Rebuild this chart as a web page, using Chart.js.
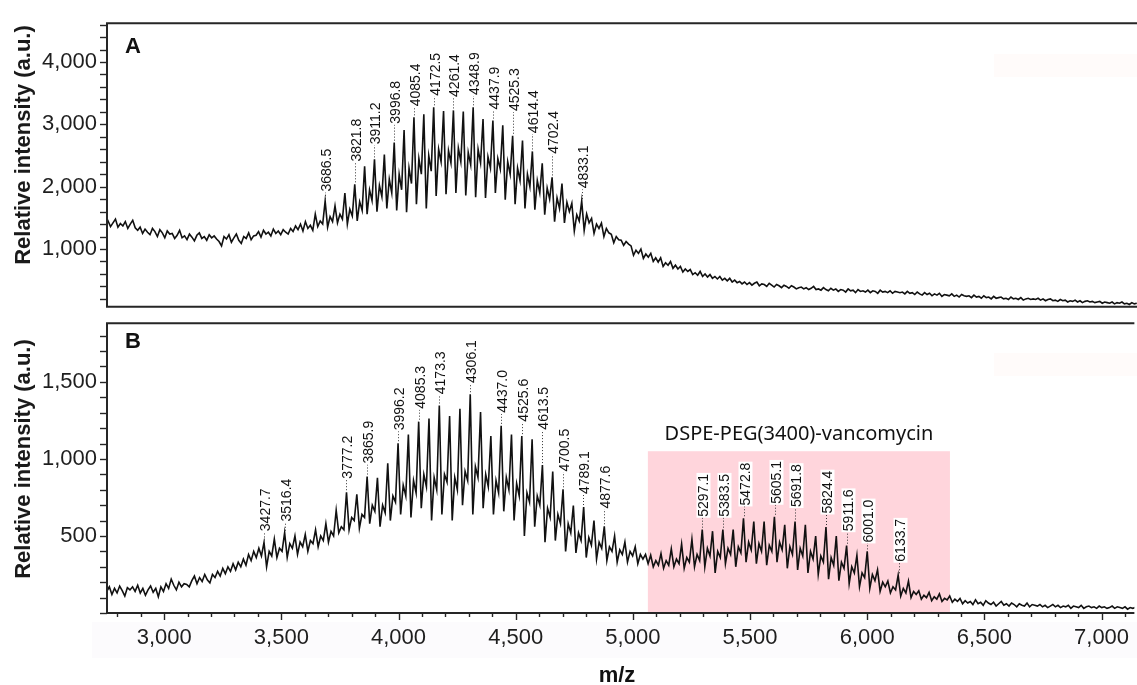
<!DOCTYPE html>
<html lang="en">
<head>
<meta charset="UTF-8">
<title>MALDI-TOF spectra</title>
<script src="https://cdn.jsdelivr.net/npm/chart.js"></script>
<style>
  html, body { margin: 0; padding: 0; background: #fff; }
  #page { position: relative; width: 1137px; height: 685px; overflow: hidden; }
  canvas { position: absolute; left: 0; }
  #chartA { top: 0; }
  #chartB { top: 300px; }
  .haze { position: absolute; }
</style>
</head>
<body>
<div id="page">
  <div class="haze" style="left:92px; top:622px; width:1045px; height:36px; background:#fcfbfd;"></div>
  <div class="haze" style="left:994px; top:54px; width:143px; height:23px; background:#fffbfa;"></div>
  <div class="haze" style="left:994px; top:353px; width:143px; height:23px; background:#fffbfa;"></div>
  <canvas id="chartA" width="1137" height="330"></canvas>
  <canvas id="chartB" width="1137" height="385"></canvas>
</div>
<script>
// Spectrum A: one reading every 10.5 m/z starting at 2750
const mzStartA = 2750, mzStepA = 10.5;
const intensityA = [
  1380, 1450, 1360, 1420, 1480, 1350, 1410, 1370, 1440, 1330, 1400, 1460, 1340,
  1300, 1350, 1250, 1320, 1270, 1230, 1330, 1280, 1200, 1310, 1260, 1180, 1290, 1240,
  1250, 1170, 1220, 1300, 1180, 1210, 1150, 1240, 1190, 1130, 1220, 1260, 1170, 1200, 1140, 1230, 1180, 1210, 1160, 1120,
  1050, 1200, 1160, 1230, 1110, 1180, 1240, 1140, 1090, 1200, 1170, 1260, 1150, 1210,
  1220, 1280, 1190, 1300, 1240, 1270, 1210, 1320, 1250, 1290, 1230, 1310, 1270, 1240,
  1330, 1280, 1370, 1310, 1400, 1290, 1440, 1330, 1380, 1300, 1560, 1360, 1450, 1400,
  1769, 1350, 1520, 1440,  1693, 1420, 1560, 1480,  1897, 1400, 1640, 1530,  2038, 1450, 1760, 1620,
  2327, 1560, 1950, 1780,  2438, 1600, 2020, 1840,  2514, 1650, 2120, 1900,  2707, 1620, 2200, 1950,
  2909, 1590, 2300, 2050,  3113, 1720, 2450, 2200,  3163, 1650, 2500, 2250,  3274, 1850, 2600, 2400,
  3213, 1880, 2580, 2380,  3224, 1900, 2620, 2400,  3204, 1860, 2550, 2350,  3274, 1830, 2600, 2380,
  3087, 1820, 2480, 2300,  3061, 1900, 2450, 2280,  2985, 1790, 2400, 2200,  2818, 1720, 2300, 2100,
  2742, 1650, 2200, 2000,  2566, 1630, 2100, 1900,  2377, 1550, 1980, 1800,  2149, 1440, 1820, 1650,
  2049, 1420, 1750, 1600,  1734, 1290, 1550, 1450,  1769, 1300, 1560, 1420,  1491, 1250, 1400, 1330,
  1415, 1200, 1330, 1260,  1237, 1100, 1200, 1150,  1141, 1060, 1120, 1080,
  1050, 900, 980, 930,  1000, 850, 920, 870,  930, 800, 860, 790,  860, 720, 780, 740,
  800, 690, 740, 680,  720, 630, 680, 640,  670, 590, 620, 580,  640, 560, 600, 550,
  590, 530, 560, 520,  560, 500, 530, 490,  530, 470, 500, 460,
  480, 440, 470, 430, 460, 420, 450, 470, 410, 440, 430, 400, 450, 420, 390, 430, 410, 380, 420, 400, 370, 410, 390, 360, 380,
  390, 360, 380, 350, 370, 400, 350, 360, 340, 380, 350, 330, 370, 340, 360, 320, 350, 340, 310, 360,
  330, 340, 300, 350, 320, 330, 310, 340, 300, 330, 320, 290, 340, 310, 320, 300, 330, 290, 320, 310, 300,
  310, 280, 320, 290, 300, 270, 310, 280, 260, 300, 270, 290, 250, 280, 260, 290, 240, 270, 260, 250, 280, 240, 260, 230, 270, 250, 240,
  250, 220, 260, 230, 240, 210, 250, 220, 230, 200, 240, 210, 220, 230, 200, 210, 190, 230, 200, 210, 190, 220, 180, 200, 210, 190, 200,
  190, 210, 180, 200, 170, 190, 200, 170, 180, 160, 190, 170, 180, 150, 170, 160, 180, 150, 170, 140,
  160, 170, 150, 160, 140, 150, 160, 130, 150, 140, 130, 150, 120, 140, 130, 150, 120, 130, 110, 140, 120, 130
];

// Spectrum B: one reading every 11 m/z starting at 2755
const mzStartB = 2755, mzStepB = 11;
const intensityB = [
  140, 170, 120, 160, 130, 175, 145, 110, 165, 150, 170,
  140, 180, 130, 160, 115, 150, 175, 135, 160, 105,
  170, 140, 190, 160, 220, 180, 150, 200, 170, 190, 185,
  170, 210, 240, 190, 230, 205, 250, 215, 195, 250,
  230, 270, 240, 290, 255, 300, 270, 320, 280, 330,
  300, 350, 310, 380, 340, 400, 360, 420, 370,
  458, 300, 400, 370,  480, 360, 420, 400,  521, 360, 450, 420,  500, 380, 460, 430,
  510, 400, 470, 450,  540, 430, 500, 470,  580, 460, 530, 500,  667, 520, 560, 540,
  784, 540, 620, 600,  771, 550, 640, 620,  886, 580, 700, 660,  878, 560, 700, 650,
  972, 600, 760, 720,  1102, 640, 830, 760,  1159, 620, 860, 780,  1242, 680, 900, 820,
  1263, 600, 880, 800,  1347, 640, 900, 850,  1278, 600, 880, 800,  1326, 700, 920, 860,
  1420, 640, 950, 880,  1305, 680, 900, 820,  1148, 640, 860, 780,  1215, 660, 880, 800,
  1159, 600, 840, 760,  1148, 500, 780, 720,  1127, 560, 760, 700,  960, 460, 680, 620,
  918, 470, 640, 580,  803, 400, 580, 520,  698, 390, 520, 470,  688, 360, 490, 440,
  600, 350, 460, 420,  563, 340, 430, 400,  500, 330, 410, 380,  460, 330, 400, 370,
  430, 320, 380, 350,
  380, 320, 375, 300, 340, 310,
  385, 290, 340, 310,  416, 300, 350, 320,  447, 290, 360, 330,  479, 300, 380, 340,
  541, 300, 420, 370,  531, 260, 400, 360,  541, 320, 420, 380,  541, 300, 430, 390,
  615, 330, 460, 410,  594, 320, 450, 400,  594, 310, 440, 400,  625, 330, 460, 410,
  573, 290, 430, 380,  594, 280, 420, 370,  573, 260, 400, 350,  500, 250, 370, 330,
  558, 220, 360, 310,  500, 210, 330, 290,  437, 190, 300, 260,  375, 170, 260, 230,
  400, 160, 250, 210,  280, 140, 200, 170,  207, 130, 170, 150,  245, 110, 160, 130,
  207, 100, 140, 120,  144, 90, 115, 100,  134, 80, 105, 90,  124, 75, 95, 85,
  110, 70, 90, 75,  95, 60, 80, 65,
  75, 55, 85, 60, 70, 50, 80, 65, 55, 70, 45, 60, 75, 50, 60, 45, 65, 55, 40, 60, 50, 45, 65, 40, 55, 50,
  45, 55, 40, 50, 35, 45, 55, 40, 50, 35, 45, 40, 50, 30, 45, 40, 35, 50, 30, 40,
  45, 35, 40, 30, 45, 35, 40, 30, 35, 45, 30, 40, 35, 30, 40, 25, 35, 30, 35
];

// peak labels of A: printed value, where the peak sits on the shared axis, height where the text starts
const peakMzA = [3686.5, 3821.8, 3911.2, 3996.8, 4085.4, 4172.5, 4261.4, 4348.9, 4437.9, 4525.3, 4614.4, 4702.4, 4833.1];
const peakPosA = [3684.5, 3810.5, 3894.5, 3978.5, 4062.5, 4146.5, 4230.5, 4314.5, 4398.5, 4482.5, 4566.5, 4650.5, 4776.5];
const labelBaseA = [1921, 2403, 2681, 3011, 3289, 3460, 3440, 3470, 3239, 3213, 2859, 2529, 1973];

// peak labels of B (these sit at their own m/z)
const peakMzB = [3427.7, 3516.4, 3777.2, 3865.9, 3996.2, 4085.3, 4173.3, 4306.1, 4437.0, 4525.6, 4613.5, 4700.5,
                 4789.1, 4877.6, 5297.1, 5383.5, 5472.8, 5605.1, 5691.8, 5824.4, 5911.6, 6001.0, 6133.7];
const labelBaseB = [531, 594, 872, 970, 1186, 1326, 1420, 1493, 1299, 1242, 1190, 918,
                    772, 678, 625, 625, 698, 709, 688, 646, 531, 458, 333];

// conjugate region highlighted in B
const boxMz = [5064, 6353];
const boxTop = 1050;
const boxName = 'DSPE-PEG(3400)-vancomycin';

const xMajorTicks = [3000, 3500, 4000, 4500, 5000, 5500, 6000, 6500, 7000];
const yMajorTicksA = [1000, 2000, 3000, 4000];
const yMajorTicksB = [500, 1000, 1500];

const xMin = 2756, xMax = 7140;

Chart.defaults.font.family = "'Liberation Sans', Arial, sans-serif";
Chart.defaults.color = '#1e1e1e';

const fmt = v => v.toLocaleString('en-US');
const toPoints = (start, step, arr) => arr.map((y, i) => ({ x: start + i * step, y }));

function tickList(from, to, step) {
  const out = [];
  for (let v = from; v <= to; v += step) out.push({ value: v });
  return out;
}

// frame lines and outward tick marks
function frameAndTicks(yMajors, showX) {
  return {
    id: 'frameAndTicks',
    afterDraw(chart) {
      const { ctx, chartArea: a, scales } = chart;
      ctx.save();
      ctx.strokeStyle = '#262626';
      ctx.lineWidth = 1.4;
      scales.y.ticks.forEach(t => {
        const p = Math.round(scales.y.getPixelForValue(t.value)) + 0.5;
        ctx.beginPath();
        ctx.moveTo(a.left - 7, p);
        ctx.lineTo(a.left, p);
        ctx.stroke();
      });
      if (showX) {
        scales.x.ticks.forEach(t => {
          const p = Math.round(scales.x.getPixelForValue(t.value)) + 0.5;
          const len = xMajorTicks.includes(t.value) ? 7 : 4;
          ctx.beginPath();
          ctx.moveTo(p, a.bottom);
          ctx.lineTo(p, a.bottom + len);
          ctx.stroke();
        });
      }
      ctx.lineWidth = 2;
      ctx.beginPath();
      ctx.moveTo(a.right, a.top);
      ctx.lineTo(a.left, a.top);
      ctx.lineTo(a.left, a.bottom);
      ctx.lineTo(a.right, a.bottom);
      ctx.stroke();
      ctx.restore();
    }
  };
}

// vertical peak labels joined to the peak by a dotted line
function peakLabels(values, positions, bases, series, start, step) {
  return {
    id: 'peakLabels',
    afterDatasetsDraw(chart) {
      const { ctx, scales: { x, y } } = chart;
      ctx.save();
      ctx.font = '14px "Liberation Sans", Arial, sans-serif';
      values.forEach((v, k) => {
        const px = Math.round(x.getPixelForValue(positions[k])) + 0.5;
        const idx = Math.round((positions[k] - start) / step);
        const top = Math.max(series[idx - 1], series[idx], series[idx + 1]);
        const yPeak = y.getPixelForValue(top) - 2;
        const yBase = y.getPixelForValue(bases[k]);
        ctx.strokeStyle = '#333';
        ctx.lineWidth = 1;
        ctx.setLineDash([1, 2]);
        ctx.beginPath();
        ctx.moveTo(px, yPeak);
        ctx.lineTo(px, yBase);
        ctx.stroke();
        ctx.setLineDash([]);

        const txt = v.toFixed(1);
        ctx.translate(px, yBase);
        ctx.rotate(-Math.PI / 2);
        const w = ctx.measureText(txt).width;
        ctx.fillStyle = '#fff';
        ctx.fillRect(-1, -6, w + 2, 14);
        ctx.fillStyle = '#111';
        ctx.textBaseline = 'middle';
        ctx.fillText(txt, 0, 1.5);
        ctx.setTransform(1, 0, 0, 1, 0, 0);
      });
      ctx.restore();
    }
  };
}

function yTitle(ctx, cx, cy) {
  ctx.save();
  ctx.translate(cx, cy);
  ctx.rotate(-Math.PI / 2);
  ctx.font = 'bold 22px "Liberation Sans", Arial, sans-serif';
  ctx.fillStyle = '#1a1a1a';
  ctx.textAlign = 'center';
  ctx.textBaseline = 'middle';
  ctx.fillText('Relative intensity (a.u.)', 0, 0);
  ctx.restore();
}

function panelLetter(ctx, letter, x, y) {
  ctx.save();
  ctx.font = 'bold 22px "Liberation Sans", Arial, sans-serif';
  ctx.fillStyle = '#111';
  ctx.fillText(letter, x, y);
  ctx.restore();
}

const lineStyle = { borderColor: '#111', borderWidth: 1.6, pointRadius: 0, tension: 0 };

function yScale(min, max, step, majors) {
  return {
    min: min, max: max,
    afterFit: s => { s.width = 107; },
    afterBuildTicks: s => { s.ticks = tickList(Math.ceil(min / step) * step, max, step); },
    grid: { display: false, drawTicks: false },
    border: { display: false },
    ticks: { padding: 10, autoSkip: false, font: { size: 22 }, callback: v => majors.includes(v) ? fmt(v) : '' }
  };
}

// Panel A
new Chart(document.getElementById('chartA'), {
  type: 'line',
  data: { datasets: [Object.assign({ data: toPoints(mzStartA, mzStepA, intensityA) }, lineStyle)] },
  options: {
    responsive: false, animation: false, events: [],
    layout: { padding: { top: 14, bottom: 17, left: 0, right: 0 } },
    plugins: { legend: { display: false }, tooltip: { enabled: false } },
    scales: {
      x: { type: 'linear', min: xMin, max: xMax, display: false },
      y: yScale(73, 4623, 200, yMajorTicksA)
    }
  },
  plugins: [
    frameAndTicks(yMajorTicksA, false),
    peakLabels(peakMzA, peakPosA, labelBaseA, intensityA, mzStartA, mzStepA),
    { id: 'textA', afterDraw(chart) {
        yTitle(chart.ctx, 24, 145);
        panelLetter(chart.ctx, 'A', 125, 53);
    } }
  ]
});

// Panel B
new Chart(document.getElementById('chartB'), {
  type: 'line',
  data: { datasets: [Object.assign({ data: toPoints(mzStartB, mzStepB, intensityB) }, lineStyle)] },
  options: {
    responsive: false, animation: false, events: [],
    layout: { padding: { top: 13, bottom: 0, left: 0, right: 0 } },
    plugins: { legend: { display: false }, tooltip: { enabled: false } },
    scales: {
      x: {
        type: 'linear', min: xMin, max: xMax,
        afterFit: s => { s.height = 72; },
        afterBuildTicks: s => { s.ticks = tickList(2800, 7100, 100); },
        grid: { display: false, drawTicks: false },
        border: { display: false },
        ticks: { padding: 12, autoSkip: false, maxRotation: 0, font: { size: 22 },
                 callback: v => xMajorTicks.includes(v) ? fmt(v) : '' }
      },
      y: yScale(0, 1881, 100, yMajorTicksB)
    }
  },
  plugins: [
    { id: 'conjugateBox', beforeDatasetsDraw(chart) {
        const { ctx, scales: { x, y } } = chart;
        const l = x.getPixelForValue(boxMz[0]), r = x.getPixelForValue(boxMz[1]);
        const t = y.getPixelForValue(boxTop), b = y.getPixelForValue(0);
        ctx.save();
        ctx.fillStyle = '#ffd5dc';
        ctx.fillRect(l, t, r - l, b - t);
        ctx.font = '20px "Noto Sans", "Liberation Sans", sans-serif';
        ctx.fillStyle = '#111';
        ctx.textAlign = 'center';
        ctx.textBaseline = 'alphabetic';
        ctx.fillText(boxName, (l + r) / 2, t - 11);
        ctx.restore();
    } },
    frameAndTicks(yMajorTicksB, true),
    peakLabels(peakMzB, peakMzB, labelBaseB, intensityB, mzStartB, mzStepB),
    { id: 'textB', afterDraw(chart) {
        const ctx = chart.ctx;
        yTitle(ctx, 24, 159);
        panelLetter(ctx, 'B', 125, 48);
        ctx.save();
        ctx.font = 'bold 22px "Liberation Sans", Arial, sans-serif';
        ctx.fillStyle = '#111';
        ctx.textAlign = 'center';
        ctx.fillText('m/z', 617, 382);
        ctx.restore();
    } }
  ]
});
</script>
</body>
</html>
